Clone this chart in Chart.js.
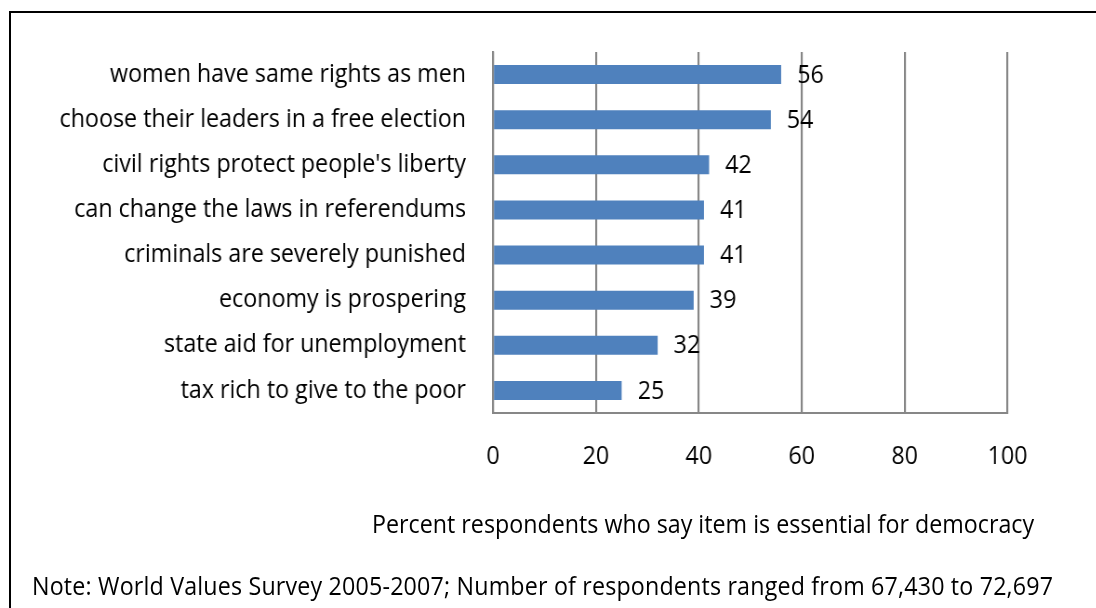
<!DOCTYPE html>
<html>
<head>
<meta charset="utf-8">
<script src="https://cdn.jsdelivr.net/npm/chart.js@4"></script>
<style>
  html, body { margin: 0; padding: 0; background: #fff; overflow: hidden; }
  body { width: 1096px; height: 608px; position: relative; }
  #frame { position: absolute; left: 9px; top: 11px; width: 1200px; height: 700px;
           border: 2px solid #000; box-sizing: border-box; }
  #stage { position: absolute; left: 0; top: 0; height: 608px; transform-origin: 0 0; }
  .txt { position: absolute; white-space: nowrap; color: #000;
         font-family: "Open Sans", sans-serif; font-size: 25px; line-height: 30px; }
  #note { letter-spacing: 0.19px; }
</style>
</head>
<body>
<div id="frame"></div>
<div id="stage">
  <canvas id="c"></canvas>
  <div class="txt" id="axisTitle">Percent respondents who say item is essential for democracy</div>
  <div class="txt" id="note">Note: World Values Survey 2005-2007; Number of respondents ranged from 67,430 to 72,697</div>
</div>
<script>
// Survey items and the share of respondents calling each essential for democracy
const categories = [
  "women have same rights as men",
  "choose their leaders in a free election",
  "civil rights protect people's liberty",
  "can change the laws in referendums",
  "criminals are severely punished",
  "economy is prospering",
  "state aid for unemployment",
  "tax rich to give to the poor"
];
const percentEssential = [56, 54, 42, 41, 41, 39, 32, 25];
const xTicks = [0, 20, 40, 60, 80, 100];

// Horizontal condensing of the whole drawing (narrow typeface look)
const S = 0.93;
const W = 1096 / S, H = 608;
const FONT = "'Open Sans', sans-serif";
const PLOT_LEFT = 493, PLOT_RIGHT = 1008, PLOT_TOP = 52, PLOT_BOTTOM = 413;

const stage = document.getElementById('stage');
stage.style.width = W + 'px';
stage.style.transform = 'scaleX(' + S + ')';
const canvas = document.getElementById('c');
canvas.width = W; canvas.height = H;
canvas.style.width = W + 'px'; canvas.style.height = H + 'px';

const at = document.getElementById('axisTitle');
at.style.left = (372 / S) + 'px'; at.style.top = (523 - 15) + 'px';
const nt = document.getElementById('note');
nt.style.left = (32 / S) + 'px'; nt.style.top = (585 - 15) + 'px';

// Value labels placed just past the end of each bar
const valueLabels = {
  id: 'valueLabels',
  afterDatasetsDraw(chart) {
    const ctx = chart.ctx;
    const meta = chart.getDatasetMeta(0);
    ctx.save();
    ctx.font = '25px ' + FONT;
    ctx.fillStyle = '#000';
    ctx.textAlign = 'left';
    ctx.textBaseline = 'middle';
    meta.data.forEach((bar, i) => {
      ctx.fillText(String(percentEssential[i]), bar.x + 16 / S, bar.y + 1);
    });
    ctx.restore();
  }
};

new Chart(canvas, {
  type: 'bar',
  data: {
    labels: categories,
    datasets: [{
      data: percentEssential,
      backgroundColor: '#4F81BD',
      borderWidth: 0,
      categoryPercentage: 1,
      barPercentage: 0.42
    }]
  },
  options: {
    indexAxis: 'y',
    responsive: false,
    animation: false,
    devicePixelRatio: 1,
    layout: { padding: { top: PLOT_TOP, right: W - PLOT_RIGHT / S, left: 0, bottom: 0 } },
    plugins: { legend: { display: false }, tooltip: { enabled: false } },
    scales: {
      x: {
        min: 0, max: 100,
        afterBuildTicks(scale) { scale.ticks = xTicks.map(v => ({ value: v })); },
        afterFit(scale) { scale.height = H - PLOT_BOTTOM; },
        grid: { color: '#878787', lineWidth: 2 / S, drawTicks: false },
        border: { color: '#878787', width: 2 },
        ticks: { color: '#000', font: { family: FONT, size: 25 }, padding: 29, maxRotation: 0 }
      },
      y: {
        afterFit(scale) { scale.width = PLOT_LEFT / S; },
        grid: { display: false, drawTicks: false },
        border: { color: '#878787', width: 2 / S },
        ticks: { color: '#000', font: { family: FONT, size: 25 }, padding: 27 / S, autoSkip: false }
      }
    }
  },
  plugins: [valueLabels]
});
</script>
</body>
</html>
